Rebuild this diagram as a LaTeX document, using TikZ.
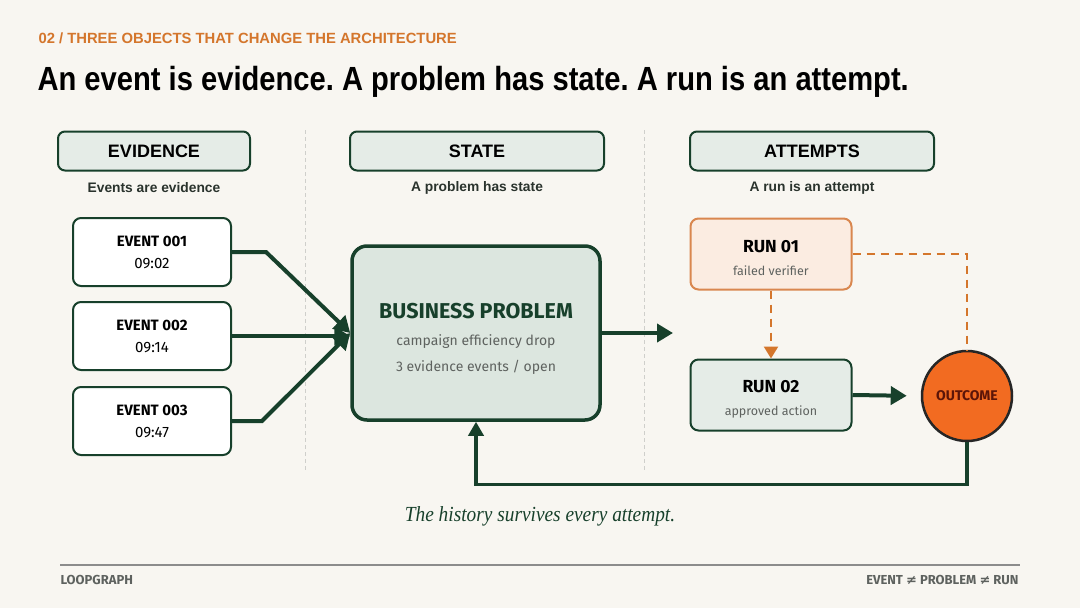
\documentclass[tikz,border=0pt]{standalone}
\usepackage{fontspec}
\setmainfont{Liberation Sans}
\newfontfamily\headfont[FakeStretch=0.87]{Liberation Sans}
\newfontfamily\boxfont{Fira Sans}
\newfontfamily\notefont[FakeStretch=0.9]{Liberation Serif}
\newfontfamily\symfont{DejaVu Sans}
\usetikzlibrary{arrows.meta,positioning}
\frenchspacing

\definecolor{paper}{HTML}{F8F6F1}
\definecolor{pine}{HTML}{17402B}
\definecolor{mint}{HTML}{E5ECE7}
\definecolor{sage}{HTML}{DCE6DF}
\definecolor{rust}{HTML}{D4762C}
\definecolor{peach}{HTML}{FBECE1}
\definecolor{clay}{HTML}{D9874F}
\definecolor{flame}{HTML}{F26B21}
\definecolor{ember}{HTML}{5C1508}
\definecolor{ink}{HTML}{2A332D}
\definecolor{slate}{HTML}{5E625F}
\definecolor{rule}{HTML}{CFCFCB}

\tikzset{
  colhead/.style={draw=pine,fill=mint,line width=2pt,rounded corners=7pt,
    minimum height=39pt,font=\fontsize{18}{20}\selectfont\bfseries,text=black},
  colnote/.style={font=\fontsize{13.8}{15}\selectfont\bfseries,text=ink},
  evbox/.style={draw=pine,fill=white,line width=2pt,rounded corners=8pt,
    minimum width=158pt,minimum height=68pt,align=center,
    font=\boxfont\fontsize{15}{22}\selectfont},
  runbox/.style={line width=2pt,rounded corners=8pt,minimum width=161pt,
    minimum height=71pt,align=center,font=\boxfont\fontsize{12.5}{23}\selectfont,text=slate},
  flow/.style={draw=pine,line width=4pt},
  tip/.style={-{Triangle[length=16pt,width=18pt]}},
  trial/.style={draw=rust,line width=2.5pt,dash pattern=on 8pt off 6pt}
}

\begin{document}
\begin{tikzpicture}[x=1pt,y=-1pt]
% page
\fill[paper] (0,0) rectangle (1080,608);
\useasboundingbox (0,0) rectangle (1080,608);

% kicker and title
\node[anchor=west,text=rust,font=\fontsize{14.8}{17}\selectfont\bfseries] (kicker) at (35,38)
  {02 / THREE OBJECTS THAT CHANGE THE ARCHITECTURE};
\node[anchor=west,font=\headfont\fontsize{33.5}{36}\selectfont\bfseries] (title) at (34,82)
  {An event is evidence. A problem has state. A run is an attempt.};

% dividers
\draw[rule,line width=1pt,dash pattern=on 4pt off 3pt] (305,130) -- (305,470);
\draw[rule,line width=1pt,dash pattern=on 4pt off 3pt] (644,130) -- (644,470);

% column heads
\node[colhead,minimum width=192pt] (hev) at (154,151) {EVIDENCE};
\node[colhead,minimum width=254pt] (hst) at (477,151) {STATE};
\node[colhead,minimum width=244pt] (hat) at (812,151) {ATTEMPTS};
\node[colnote] (nev) at (154,188) {Events are evidence};
\node[colnote] (nst) at (477,188) {A problem has state};
\node[colnote] (nat) at (812,188) {A run is an attempt};

% evidence
\node[evbox] (e1) at (152,252) {\textbf{EVENT 001}\\09:02};
\node[evbox] (e2) at (152,336) {\textbf{EVENT 002}\\09:14};
\node[evbox] (e3) at (152,421) {\textbf{EVENT 003}\\09:47};

% state
\node[draw=pine,fill=sage,line width=3.5pt,rounded corners=15pt,minimum width=248pt,
  minimum height=174pt,align=center,font=\boxfont\fontsize{14}{26}\selectfont,text=slate]
  (prob) at (476,333)
  {\rule{0pt}{26pt}{\fontsize{21.5}{26}\selectfont\bfseries\color{pine}BUSINESS PROBLEM}\\[1pt]
   campaign efficiency drop\\3 evidence events / open};

\draw[flow,tip] (e1.east) -- ++(34,0) -- (prob.west);
\draw[flow,tip] (e2.east) -- (e2.east -| prob.west);
\draw[flow,tip] (e3.east) -- ++(30,0) -- (prob.west);

\coordinate (handoff) at (673,333);
\draw[flow,tip] (prob.east) -- (handoff);

% attempts
\node[runbox,draw=clay,fill=peach] (r1) at (771,254)
  {\rule{0pt}{20pt}{\fontsize{17.5}{20}\selectfont\bfseries\color{black}RUN 01}\\failed verifier};
\node[runbox,draw=pine,fill=mint] (r2) at (771,395)
  {\rule{0pt}{20pt}{\fontsize{17.5}{20}\selectfont\bfseries\color{black}RUN 02}\\approved action};
\node[circle,draw=black!85,fill=flame,line width=2.5pt,minimum size=90pt,inner sep=0pt,
  text=ember,font=\boxfont\fontsize{14}{15}\selectfont\bfseries] (out) at (967,396) {OUTCOME};

\draw[trial,-{Triangle[length=12pt,width=14pt]}] (r1.south) -- (r2.north);
\draw[trial] (r1.east) -| (out.north);
\draw[flow,tip,shorten >=14pt] (r2.east) -- (out.west);
\draw[draw=pine,line width=3.5pt,-{Triangle[length=14pt,width=15pt]}]
  (out.south) -- ++(0,42) -| (prob.south);

% caption and footer
\node[font=\notefont\itshape\fontsize{21.5}{24}\selectfont,text=pine] (cap) at (540,516)
  {The history survives every attempt.};
\draw[black!45,line width=1.5pt] (60,565) -- (1020,565);
\node[anchor=west,text=slate,font=\boxfont\fontsize{13}{14}\selectfont\bfseries] (brand) at (57,580) {LOOPGRAPH};
\node[anchor=east,text=slate,font=\boxfont\fontsize{13}{14}\selectfont\bfseries] (motto) at (1022,580)
  {EVENT {\symfont\char"2260} PROBLEM {\symfont\char"2260} RUN};
\end{tikzpicture}
\end{document}
